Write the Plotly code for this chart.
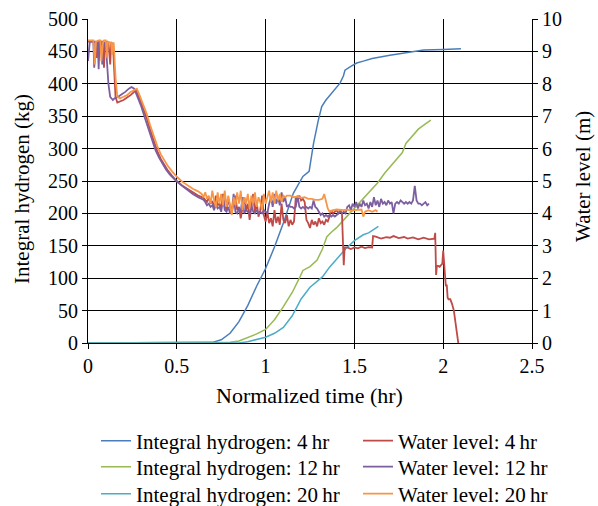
import plotly.graph_objects as go

# ---------------- Data ----------------
# Integral hydrogen (kg), left axis
t_h4 = [0, 0.6, 0.7, 0.75, 0.8, 0.85, 0.9, 0.95, 1.0, 1.05, 1.1, 1.156, 1.21, 1.245, 1.27, 1.297, 1.316, 1.34, 1.363, 1.39, 1.419, 1.438, 1.447, 1.48, 1.513, 1.55, 1.6, 1.7, 1.8, 1.89, 2.0, 2.1]
h4 = [0, 0, 1, 5, 15, 33, 58, 88, 115, 148, 185, 231, 257, 265, 308, 344, 365, 375, 383, 392, 401, 412, 421, 427, 432, 435, 439, 444, 448, 452, 453, 454]

t_h12 = [0, 0.75, 0.8, 0.85, 0.9, 0.95, 1.0, 1.05, 1.1, 1.15, 1.19, 1.21, 1.25, 1.29, 1.32, 1.345, 1.37, 1.4, 1.44, 1.48, 1.53, 1.58, 1.63, 1.67, 1.7, 1.74, 1.77, 1.79, 1.82, 1.86, 1.9, 1.93]
h12 = [0, 0, 1, 3, 8, 14, 21, 36, 56, 78, 100, 112, 118, 128, 145, 164, 171, 178, 190, 202, 216, 232, 247, 262, 272, 285, 294, 308, 318, 330, 338, 344]

t_h20 = [0, 0.85, 0.9, 0.95, 1.0, 1.05, 1.1, 1.15, 1.2, 1.25, 1.29, 1.32, 1.36, 1.4, 1.45, 1.5, 1.55, 1.58, 1.61, 1.635]
h20 = [0, 0, 2, 5, 9, 15, 24, 42, 68, 86, 95, 102, 117, 130, 145, 158, 167, 170, 175, 180]

# Water level (m), right axis
t_w4 = [0, 0.02, 0.04, 0.05, 0.055, 0.065, 0.08, 0.09, 0.095, 0.105, 0.115, 0.125, 0.13, 0.14, 0.148, 0.155, 0.165, 0.18, 0.2, 0.22, 0.24, 0.26, 0.27,
        0.29, 0.31, 0.33, 0.35, 0.37, 0.39, 0.41, 0.43, 0.45, 0.47, 0.5, 0.53, 0.56, 0.59, 0.62, 0.65,
        0.66, 0.67, 0.68, 0.69, 0.70, 0.71, 0.72, 0.73, 0.74, 0.75, 0.76, 0.77, 0.78, 0.79, 0.80, 0.81, 0.82, 0.83, 0.84, 0.85,
        0.86, 0.87, 0.88, 0.89, 0.90, 0.91, 0.92, 0.93, 0.94, 0.95, 0.96, 0.97, 0.98, 0.99,
        1.00, 1.01, 1.02, 1.03, 1.04, 1.05, 1.06, 1.07, 1.08, 1.09, 1.10, 1.11, 1.12, 1.13, 1.14, 1.15, 1.16,
        1.17, 1.18, 1.19, 1.20, 1.21, 1.22, 1.23, 1.24, 1.25, 1.26, 1.27, 1.28, 1.29, 1.30, 1.31, 1.32, 1.33, 1.34, 1.35,
        1.36, 1.37, 1.38, 1.39, 1.40, 1.41, 1.42, 1.43,
        1.435, 1.44, 1.445, 1.46, 1.48, 1.50, 1.52, 1.54, 1.56, 1.58, 1.60, 1.605, 1.62, 1.65, 1.68, 1.70, 1.72, 1.75, 1.78, 1.80,
        1.83, 1.86, 1.89, 1.92, 1.95, 1.955, 1.96, 1.965, 1.98, 1.99, 1.995, 2.0, 2.005, 2.01, 2.015, 2.02, 2.025, 2.03, 2.04, 2.05,
        2.06, 2.07, 2.08, 2.085]
w4 = [9.3, 9.3, 9.3, 8.8, 9.28, 9.3, 9.3, 8.5, 9.28, 9.3, 9.28, 8.6, 9.25, 9.25, 8.3, 7.6, 7.42, 7.45, 7.5, 7.58, 7.65, 7.75, 7.8,
      7.55, 7.25, 6.95, 6.58, 6.22, 5.92, 5.68, 5.48, 5.32, 5.18, 5.0, 4.86, 4.75, 4.64, 4.55, 4.48,
      4.42, 4.35, 4.5, 4.3, 4.38, 4.2, 4.55, 4.25, 4.3, 4.15, 4.6, 4.2, 4.1, 4.45, 4.2, 4.05, 4.3, 4.55, 4.1, 4.2,
      3.85, 4.25, 4.5, 4.1, 4.3, 3.8, 4.2, 4.6, 4.0, 4.35, 3.9, 4.1, 4.55, 3.95,
      3.75, 4.05, 3.7, 3.85, 3.6, 4.1, 3.7, 3.9, 3.65, 4.3, 3.8, 3.7, 3.95, 3.6, 3.8, 3.65, 3.75,
      4.5, 4.4, 4.55, 4.4, 4.45, 4.35, 3.8, 3.7, 3.55, 3.8, 3.65, 3.75, 3.6, 3.85, 3.7, 3.75, 3.65, 3.8, 3.75,
      3.9, 4.1, 4.0, 4.05, 4.1, 4.0, 4.05, 4.0,
      3.0, 2.4, 2.95, 2.95, 2.9, 2.95, 2.92, 2.97, 2.93, 2.96, 2.95, 3.3, 3.28, 3.22, 3.27, 3.25, 3.3, 3.24, 3.27, 3.22,
      3.26, 3.2, 3.25, 3.2, 3.22, 3.4, 2.1, 2.4, 2.35, 2.4, 2.45, 2.85, 2.45, 2.0, 1.75, 1.8, 1.4, 1.35, 1.35, 1.2,
      1.0, 0.6, 0.2, 0.0]

t_w12 = [0, 0.01, 0.02, 0.03, 0.035, 0.045, 0.055, 0.06, 0.065, 0.075, 0.08, 0.09, 0.1, 0.108, 0.115, 0.125, 0.14, 0.15, 0.17, 0.19, 0.21, 0.23, 0.245, 0.26,
         0.28, 0.30, 0.32, 0.34, 0.36, 0.38, 0.40, 0.42, 0.44, 0.46, 0.48, 0.50, 0.53, 0.56, 0.59, 0.62, 0.65,
         0.66, 0.67, 0.68, 0.69, 0.70, 0.71, 0.72, 0.73, 0.74, 0.75, 0.76, 0.77, 0.78, 0.79, 0.80, 0.81, 0.82, 0.83, 0.84, 0.85,
         0.86, 0.87, 0.88, 0.89, 0.90, 0.91, 0.92, 0.93, 0.94, 0.95, 0.96, 0.97, 0.98, 0.99,
         1.00, 1.01, 1.02, 1.03, 1.04, 1.05, 1.06, 1.07, 1.08, 1.09, 1.10, 1.11, 1.12, 1.13, 1.14, 1.15, 1.16, 1.17, 1.18, 1.19,
         1.20, 1.21, 1.22, 1.23, 1.24, 1.25, 1.26, 1.27, 1.28, 1.29, 1.30, 1.31, 1.32, 1.33, 1.34, 1.35, 1.36, 1.37, 1.38, 1.39,
         1.40, 1.41, 1.42, 1.43, 1.44, 1.45, 1.46, 1.47, 1.48, 1.49, 1.50, 1.51, 1.52, 1.53, 1.54, 1.55, 1.56, 1.57, 1.58, 1.59,
         1.60, 1.61, 1.62, 1.63, 1.64, 1.65, 1.66, 1.67, 1.68, 1.69, 1.70, 1.71, 1.72, 1.73, 1.74, 1.75, 1.76, 1.77, 1.78, 1.79,
         1.80, 1.81, 1.82, 1.83, 1.84, 1.85, 1.86, 1.87, 1.88, 1.89, 1.90, 1.91, 1.92]
w12 = [8.7, 9.3, 9.3, 9.3, 8.5, 9.28, 9.3, 8.45, 9.25, 9.28, 8.6, 9.25, 9.25, 8.6, 8.0, 7.6, 7.5, 7.55, 7.6, 7.68, 7.75, 7.85, 7.9, 7.85,
       7.6, 7.3, 6.95, 6.6, 6.25, 5.95, 5.72, 5.52, 5.35, 5.2, 5.08, 4.98, 4.85, 4.72, 4.6, 4.5, 4.42,
       4.35, 4.25, 4.3, 4.2, 4.25, 4.1, 4.3, 4.15, 4.2, 4.05, 4.5, 4.1, 4.05, 4.2, 4.0, 4.1, 4.6, 4.05, 4.0, 4.15,
       4.05, 4.5, 4.0, 4.1, 4.05, 4.0, 4.25, 4.05, 4.0, 4.1, 4.0, 4.05, 4.0, 4.1,
       4.05, 4.0, 4.3, 4.5, 4.2, 4.6, 4.3, 4.5, 4.25, 4.65, 4.35, 4.5, 4.2, 4.25, 4.2, 4.2, 4.15, 4.2, 4.55, 4.2,
       4.15, 4.2, 4.15, 4.2, 4.15, 4.2, 4.15, 4.4, 4.2, 4.15, 4.05, 3.95, 4.0, 3.9, 3.95, 3.9, 3.95, 3.9, 3.95, 3.9,
       3.95, 4.0, 4.1, 4.0, 4.05, 4.0, 4.2, 4.25, 4.1, 4.3, 4.2, 4.35, 4.15, 4.3, 4.2, 4.4, 4.25, 4.3, 4.15, 4.35,
       4.2, 4.5, 4.25, 4.4, 4.2, 4.45, 4.3, 4.35, 4.25, 4.4, 4.3, 4.35, 4.0, 4.3, 4.35, 4.3, 4.4, 4.35, 4.3, 4.35,
       4.3, 4.35, 4.3, 4.4, 4.85, 4.4, 4.3, 4.3, 4.25, 4.3, 4.35, 4.25, 4.3]

t_w20 = [0, 0.03, 0.038, 0.045, 0.06, 0.07, 0.075, 0.085, 0.09, 0.1, 0.108, 0.112, 0.12, 0.13, 0.135, 0.14, 0.145, 0.155, 0.165, 0.18, 0.2, 0.22, 0.24, 0.26, 0.275,
         0.29, 0.31, 0.33, 0.35, 0.37, 0.39, 0.41, 0.43, 0.45, 0.47, 0.5, 0.53, 0.56, 0.59, 0.62,
         0.64, 0.65, 0.66, 0.67, 0.68, 0.69, 0.70, 0.71, 0.72, 0.73, 0.74, 0.75, 0.76, 0.77, 0.78, 0.79, 0.80, 0.81, 0.82, 0.83,
         0.84, 0.85, 0.86, 0.87, 0.88, 0.89, 0.90, 0.91, 0.92, 0.93, 0.94, 0.95, 0.96, 0.97, 0.98, 0.99,
         1.00, 1.01, 1.02, 1.03, 1.04, 1.05, 1.06, 1.07, 1.08, 1.09, 1.10, 1.11, 1.12, 1.14, 1.16, 1.18, 1.20, 1.22, 1.24, 1.26,
         1.28, 1.30, 1.32, 1.33, 1.34, 1.35, 1.36, 1.38, 1.40, 1.42, 1.44, 1.46, 1.48, 1.50, 1.52, 1.54, 1.55, 1.56, 1.58, 1.60,
         1.62, 1.63]
w20 = [9.34, 9.34, 8.6, 9.3, 9.34, 9.34, 8.7, 9.3, 9.34, 9.34, 8.8, 9.3, 9.28, 9.28, 8.9, 9.25, 9.25, 8.2, 7.6, 7.55, 7.6, 7.65, 7.75, 7.8, 7.85,
       7.65, 7.38, 7.08, 6.72, 6.38, 6.08, 5.82, 5.62, 5.46, 5.32, 5.13, 4.98, 4.86, 4.76, 4.68,
       4.6, 4.5, 4.65, 4.45, 4.55, 4.3, 4.7, 4.4, 4.2, 4.65, 4.3, 4.6, 4.25, 4.7, 4.2, 4.55, 4.3, 3.95, 4.5, 4.25,
       4.65, 4.3, 4.7, 4.1, 4.5, 4.3, 4.6, 4.15, 4.55, 4.3, 4.65, 4.2, 4.5, 4.35, 4.1, 4.6,
       4.3, 4.5, 4.7, 4.35, 4.65, 4.3, 4.7, 4.4, 4.6, 4.35, 4.55, 4.5, 4.55, 4.55, 4.5, 4.52, 4.48, 4.5, 4.45, 4.45,
       4.42, 4.42, 4.45, 4.6, 4.35, 4.15, 4.05, 4.1, 4.12, 4.1, 4.1, 4.12, 4.08, 4.1, 4.1, 4.12, 3.9, 4.05, 4.1, 4.05,
       4.1, 4.05]

x_ticks = [0, 0.5, 1, 1.5, 2, 2.5]
x_tick_labels = ["0", "0.5", "1", "1.5", "2", "2.5"]

# ---------------- Figure ----------------
FONT = "Liberation Serif, Times New Roman, serif"
C_H4, C_H12, C_H20 = "#4a7ebb", "#98b954", "#4bacc6"
C_W4, C_W12, C_W20 = "#be4b48", "#7d5fa0", "#f79646"

W, H = 598, 506
series = [
    (t_h4, h4, "Integral hydrogen: 4\u2009hr", C_H4, "y", "legend", 1.5),
    (t_h12, h12, "Integral hydrogen: 12\u2009hr", C_H12, "y", "legend2", 1.5),
    (t_h20, h20, "Integral hydrogen: 20\u2009hr", C_H20, "y", "legend3", 1.5),
    (t_w4, w4, "Water level: 4\u2009hr", C_W4, "y2", "legend4", 1.8),
    (t_w12, w12, "Water level: 12\u2009hr", C_W12, "y2", "legend5", 1.8),
    (t_w20, w20, "Water level: 20\u2009hr", C_W20, "y2", "legend6", 1.8),
]

fig = go.Figure()
for xs, ys, name, col, ax, lg, lw in series:
    fig.add_trace(go.Scatter(x=xs, y=ys, mode="lines", name=name, yaxis=ax,
                             line=dict(color=col, width=lw), legend=lg))

axis_common = dict(showline=True, linecolor="black", linewidth=1, ticks="outside", ticklen=5,
                   tickcolor="black", showgrid=True, gridcolor="black", gridwidth=1,
                   zeroline=False, automargin=False,
                   tickfont=dict(family=FONT, size=20, color="black"))

legend_rows = [441, 467, 494]
legend_cols = [96, 358]
legends = {}
for i in range(6):
    key = "legend" if i == 0 else f"legend{i + 1}"
    legends[key] = dict(xref="container", yref="container",
                        x=legend_cols[i // 3] / W, y=1 - legend_rows[i % 3] / H,
                        xanchor="left", yanchor="middle", bgcolor="rgba(0,0,0,0)",
                        font=dict(family=FONT, size=21, color="black"), itemwidth=30)

fig.update_layout(
    width=W, height=H,
    margin=dict(l=88, r=66, t=19, b=163, autoexpand=False),
    paper_bgcolor="white", plot_bgcolor="white",
    font=dict(family=FONT, size=20, color="black"),
    xaxis=dict(range=[0, 2.5], tickvals=x_ticks, ticktext=x_tick_labels, **axis_common),
    yaxis=dict(range=[0, 500], dtick=50, **axis_common),
    yaxis2=dict(range=[0, 10], dtick=1, overlaying="y", side="right",
                **{**axis_common, "showgrid": False}),
    showlegend=True,
    annotations=[
        dict(text="Normalized time (hr)", xref="paper", yref="paper", x=0.498, y=(343 - 395) / 324,
             xanchor="center", yanchor="middle", showarrow=False, font=dict(family=FONT, size=22)),
        dict(text="Integral hydrogen (kg)", xref="paper", yref="paper", x=(22 - 88) / 444, y=(343 - 189) / 324,
             xanchor="center", yanchor="middle", textangle=-90, showarrow=False, font=dict(family=FONT, size=21)),
        dict(text="Water level (m)", xref="paper", yref="paper", x=(583 - 88) / 444, y=(343 - 177) / 324,
             xanchor="center", yanchor="middle", textangle=-90, showarrow=False, font=dict(family=FONT, size=21)),
    ],
    **legends,
)

fig.write_html("out.html")
